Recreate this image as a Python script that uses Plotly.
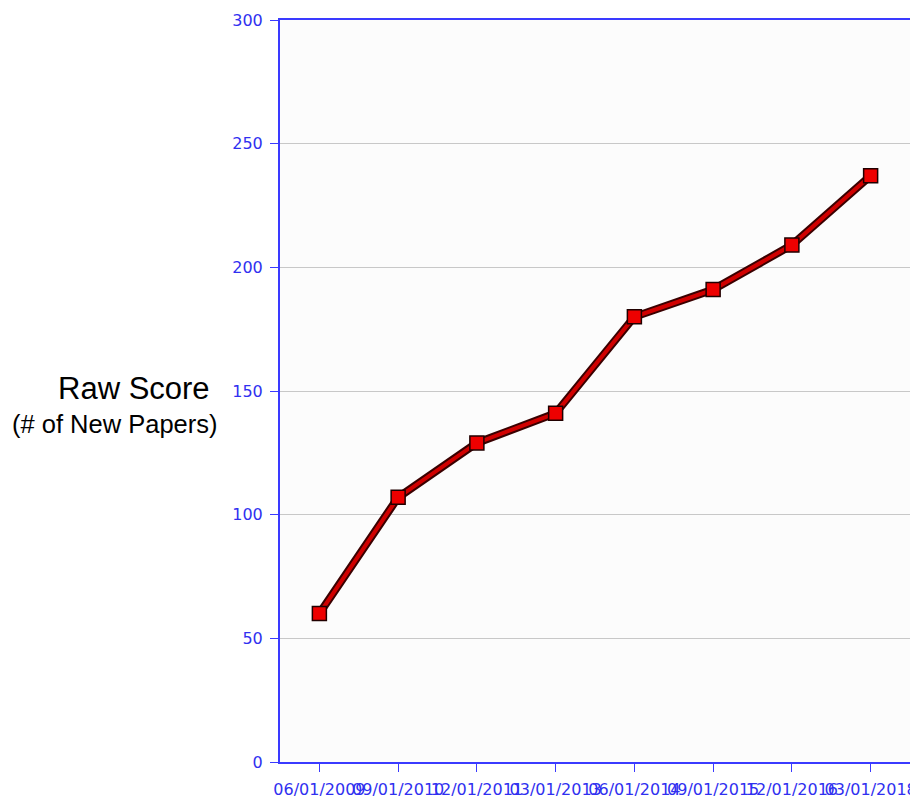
import plotly.graph_objects as go

dates = ["06/01/2009", "09/01/2010", "12/01/2011", "03/01/2013",
         "06/01/2014", "09/01/2015", "12/01/2016", "03/01/2018"]
raw_score = [60, 107, 129, 141, 180, 191, 209, 237]
y_ticks = [0, 50, 100, 150, 200, 250, 300]

fig = go.Figure()
fig.add_trace(go.Scatter(x=dates, y=raw_score, mode="lines",
                         line=dict(color="#3a0000", width=8), hoverinfo="skip",
                         showlegend=False))
fig.add_trace(go.Scatter(x=dates, y=raw_score, mode="lines+markers",
                         line=dict(color="#d00000", width=4),
                         marker=dict(symbol="square", size=14, color="#ee0000",
                                     line=dict(color="#200000", width=1.5)),
                         showlegend=False))

axis_blue = "#3a3aff"
tick_font = dict(family="DejaVu Sans, Verdana, sans-serif", color="#3030f0", size=16)
fig.update_layout(
    width=918, height=801,
    margin=dict(l=272, r=16, t=12, b=47),
    paper_bgcolor="white",
    plot_bgcolor="#fcfcfc",
    font=dict(family="Liberation Sans, Arial, sans-serif"),
    xaxis=dict(type="category", range=[-0.5, 7.5], tickangle=0, automargin=False,
               showline=True, linecolor=axis_blue, linewidth=2, mirror=True,
               ticks="outside", ticklen=8, tickcolor=axis_blue,
               ticklabelstandoff=4,
               tickfont=tick_font, showgrid=False, zeroline=False),
    yaxis=dict(range=[0, 300], tickvals=y_ticks, automargin=False,
               showline=True, linecolor=axis_blue, linewidth=2, mirror=True,
               ticks="outside", ticklen=8, tickcolor=axis_blue,
               ticklabelstandoff=4,
               tickfont=tick_font,
               showgrid=True, gridcolor="#c8c8c8", gridwidth=1,
               zeroline=False),
)
fig.add_annotation(text="Raw Score", xref="paper", yref="paper",
                   x=-0.108, y=0.504, xanchor="right", yanchor="middle",
                   showarrow=False, font=dict(size=31, color="black"))
fig.add_annotation(text="(# of New Papers)", xref="paper", yref="paper",
                   x=-0.095, y=0.455, xanchor="right", yanchor="middle",
                   showarrow=False, font=dict(size=25.5, color="black"))

fig.write_html("out.html")
